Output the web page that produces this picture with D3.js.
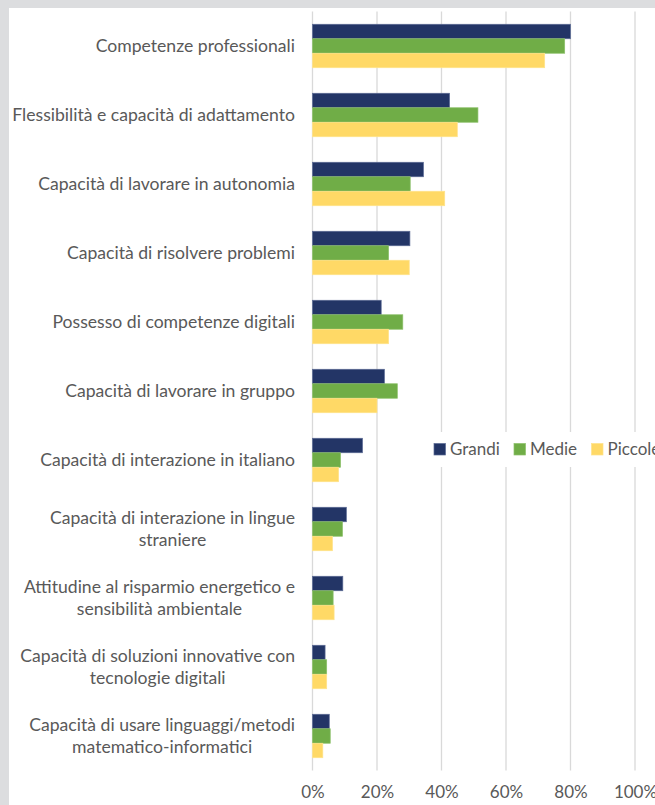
<!DOCTYPE html>
<html><head><meta charset="utf-8">
<script src="https://cdn.jsdelivr.net/npm/d3@7"></script>
<style>html,body{margin:0;padding:0;background:#dcdddf;overflow:hidden}</style>
</head><body>
<svg id="c" width="655" height="805"></svg>
<script>
const categories = [
  "Competenze professionali",
  "Flessibilità e capacità di adattamento",
  "Capacità di lavorare in autonomia",
  "Capacità di risolvere problemi",
  "Possesso di competenze digitali",
  "Capacità di lavorare in gruppo",
  "Capacità di interazione in italiano",
  "Capacità di interazione in lingue\nstraniere",
  "Attitudine al risparmio energetico e\nsensibilità ambientale",
  "Capacità di soluzioni innovative con\ntecnologie digitali",
  "Capacità di usare linguaggi/metodi\nmatematico-informatici"
];
const seriesNames = ["Grandi", "Medie", "Piccole"];
const grandi  = [80.0, 42.5, 34.4, 30.2, 21.3, 22.3, 15.5, 10.5, 9.4, 3.9, 5.2];
const medie   = [78.2, 51.3, 30.3, 23.6, 28.0, 26.3, 8.7, 9.3, 6.4, 4.4, 5.5];
const piccole = [72.0, 44.9, 41.0, 30.0, 23.6, 20.0, 8.1, 6.2, 6.7, 4.4, 3.2];
const tickValues = [0, 20, 40, 60, 80, 100];
const colors = ["#233566", "#70ad47", "#ffd966"];
const strokes = ["#5b6a94", "#8cc06a", "#ffe38a"];

const svg = d3.select("#c");
const font = "Lato, 'Open Sans', sans-serif";
const textColor = "#595959";

svg.append("rect").attr("x", 9).attr("y", 8).attr("width", 700).attr("height", 800).attr("fill", "#ffffff");

const x = d3.scaleLinear().domain([0, 100]).range([312.5, 635]);
const y = d3.scaleBand().domain(d3.range(categories.length)).range([11.5, 770.5]).paddingInner(0.37).paddingOuter(0.185);
const ySub = d3.scaleBand().domain(d3.range(3)).range([0, y.bandwidth()]);

// gridlines
svg.append("g").selectAll("line").data(tickValues).join("line")
  .attr("x1", d => x(d)).attr("x2", d => x(d))
  .attr("y1", 11.5).attr("y2", 770.5)
  .attr("stroke", "#d9d9d9").attr("stroke-width", 1.3);

// bars
const series = [grandi, medie, piccole];
series.forEach((vals, si) => {
  svg.append("g").selectAll("rect").data(vals).join("rect")
    .attr("x", x(0))
    .attr("y", (d, i) => y(i) + ySub(si))
    .attr("width", d => x(d) - x(0))
    .attr("height", ySub.bandwidth())
    .attr("fill", colors[si])
    .attr("stroke", strokes[si]).attr("stroke-width", 0.7);
});

// x axis tick labels
const xAxis = d3.axisBottom(x).tickValues(tickValues).tickFormat(d => d + "%").tickSize(0).tickPadding(0);
const gx = svg.append("g").attr("transform", "translate(0,786)").call(xAxis);
gx.select(".domain").remove();
gx.selectAll("text").attr("fill", textColor).style("font-family", font).style("font-size", "17px");

// category labels
const labelRight = 295;
const lg = svg.append("g");
categories.forEach((c, i) => {
  const lines = c.split("\n");
  const cy = y(i) + y.bandwidth() / 2;
  const lh = 21.7;
  const g = lg.append("g");
  const texts = lines.map((ln, k) => g.append("text")
    .attr("y", cy + (k - (lines.length - 1) / 2) * lh)
    .attr("dy", "0.35em")
    .attr("fill", textColor).style("font-family", font).style("font-size", "17.6px")
    .text(ln));
  const widths = texts.map(t => t.node().getComputedTextLength());
  const maxW = d3.max(widths);
  const center = labelRight - maxW / 2;
  texts.forEach(t => t.attr("x", center).attr("text-anchor", "middle"));
});

// legend
const leg = svg.append("g");
leg.append("rect").attr("x", 428).attr("y", 432).attr("width", 240).attr("height", 35).attr("fill", "#ffffff");
const legX = [434, 514, 591.5];
seriesNames.forEach((n, i) => {
  leg.append("rect").attr("x", legX[i]).attr("y", 443.5).attr("width", 11.5).attr("height", 11.5)
    .attr("fill", colors[i]).attr("stroke", strokes[i]).attr("stroke-width", 0.7);
  leg.append("text").attr("x", legX[i] + 16).attr("y", 449.5).attr("dy", "0.35em")
    .attr("fill", textColor).style("font-family", font).style("font-size", "17px").text(n);
});
</script>
</body></html>
